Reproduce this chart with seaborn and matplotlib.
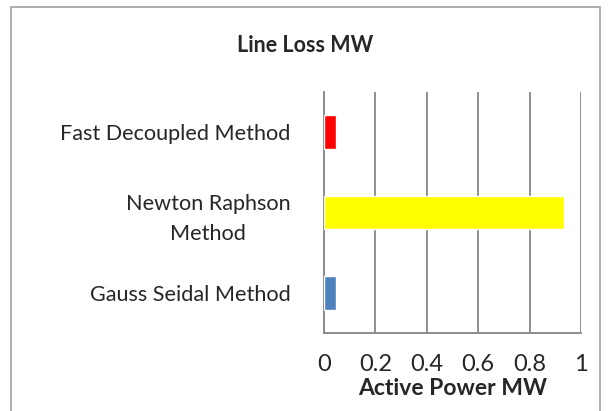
import seaborn as sns
import matplotlib.pyplot as plt
import pandas as pd
from matplotlib.patches import Rectangle

methods = ["Fast Decoupled Method", "Newton Raphson\nMethod", "Gauss Seidal Method"]
line_loss = [0.048, 0.934, 0.048]
bar_colors = ["#FF0000", "#FFFF00", "#4F81BD"]

df = pd.DataFrame({"method": methods, "loss": line_loss})

sns.set_style("white")
plt.rcParams['font.family'] = ['Lato', 'DejaVu Sans']

fig = plt.figure(figsize=(6.11, 4.11), dpi=100)
ax = fig.add_axes([0.530, 0.190, 0.421, 0.586])

sns.barplot(data=df, x="loss", y="method", hue="method", palette=bar_colors,
            orient="h", width=0.42, saturation=1, legend=False, ax=ax, zorder=3)

grid_col = "#868686"
ax.set_xlim(0, 1)
ax.set_ylim(2.5, -0.5)
ax.set_xticks([0, 0.2, 0.4, 0.6, 0.8, 1])
ax.set_xticklabels(["0", "0.2", "0.4", "0.6", "0.8", "1"])
ax.xaxis.grid(True, color=grid_col, linewidth=1.3, zorder=0)
ax.set_axisbelow(True)

# category ticks sit between the bars
ax.set_yticks([-0.5, 0.5, 1.5, 2.5], minor=False)
ax.set_yticklabels([])
ax.set_yticks([0, 1, 2], minor=True)
ax.set_yticklabels(methods, minor=True, fontsize=15.6, multialignment="center", linespacing=1.6)
ax.tick_params(axis="y", which="minor", length=0, pad=24)
ax.tick_params(axis="y", which="major", length=6, width=1.3, color=grid_col, direction="out")
ax.tick_params(axis="x", length=5, width=1.3, color=grid_col, direction="out", labelsize=17, pad=10)

for s in ["top", "right"]:
    ax.spines[s].set_visible(False)
for s in ["left", "bottom"]:
    ax.spines[s].set_color(grid_col)
    ax.spines[s].set_linewidth(1.3)

ax.set_ylabel("")
ax.set_xlabel("Active Power MW", fontsize=16.5, fontweight="bold", labelpad=2)

fig.text(0.5, 0.89, "Line Loss MW", ha="center", va="center", fontsize=15.5, fontweight="bold")
fig.patches.append(Rectangle((11 / 611, -0.05), 589 / 611, 1 - 7 / 411 + 0.05,
                             transform=fig.transFigure, fill=False,
                             edgecolor="#A0A0A0", linewidth=1.2))

fig.savefig("out.png", dpi=100)
